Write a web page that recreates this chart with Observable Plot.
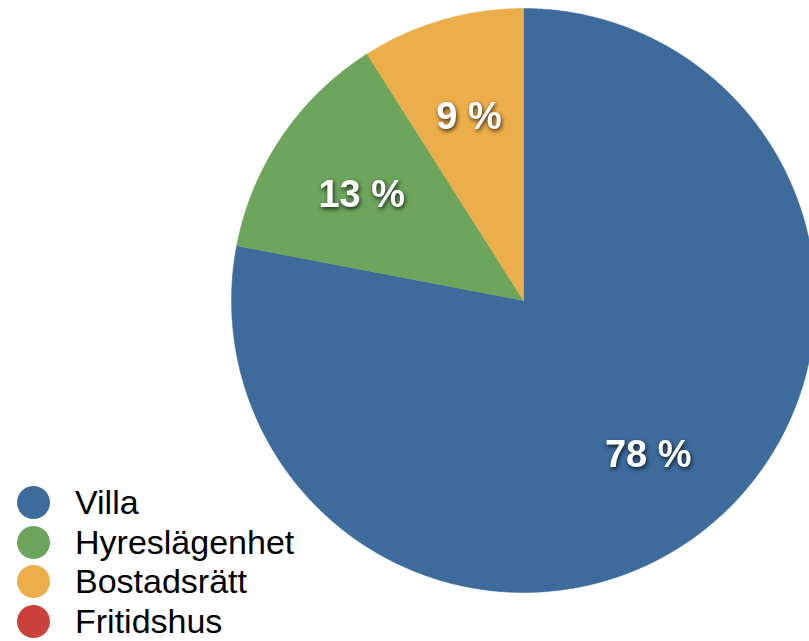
<!DOCTYPE html>
<html>
<head>
<meta charset="utf-8">
<script src="https://cdn.jsdelivr.net/npm/d3@7"></script>
<script src="https://cdn.jsdelivr.net/npm/@observablehq/plot@0.6"></script>
<style>
  html, body { margin: 0; padding: 0; background: #fff; }
  #wrap { position: relative; width: 809px; height: 641px; overflow: hidden; font-family: "Liberation Sans", Arial, Helvetica, sans-serif; }
  #legend { position: absolute; left: 17px; top: 483px; }
  .item { display: flex; align-items: center; height: 39.5px; }
  .sw { width: 33px; height: 33px; border-radius: 50%; margin-right: 25px; }
  .lab { font-size: 34px; color: #000; line-height: 39px; }
  .pct text { filter: drop-shadow(1px 2px 2px rgba(0,0,0,0.75)); }
</style>
</head>
<body>
<div id="wrap"></div>
<script>
const categories = ["Villa", "Hyreslägenhet", "Bostadsrätt", "Fritidshus"];
const values = [78, 13, 9, 0];
const colors = ["#3c6b9c", "#6ca55b", "#ecae4a", "#cb413e"];

// pie geometry in unit coordinates (radius 1), clockwise from 12 o'clock
const pie = d3.pie().sort(null).value(d => d.value);
const arcs = pie(categories.map((name, i) => ({name, value: values[i]})));
const outline = [];
const labels = [];
for (const a of arcs) {
  if (a.endAngle - a.startAngle <= 0) continue;
  const name = a.data.name;
  outline.push({name, x: 0, y: 0});
  const n = Math.max(2, Math.ceil((a.endAngle - a.startAngle) / (Math.PI / 360)));
  for (let k = 0; k <= n; ++k) {
    const t = a.startAngle + (a.endAngle - a.startAngle) * k / n;
    outline.push({name, x: Math.sin(t), y: Math.cos(t)});
  }
  outline.push({name, x: 0, y: 0});
  const m = (a.startAngle + a.endAngle) / 2;
  labels.push({name, x: 0.67 * Math.sin(m), y: 0.67 * Math.cos(m), text: `${a.data.value} %`});
}

const W = 809, H = 641, cx = 523, cy = 300, R = 292;
const chart = Plot.plot({
  width: W, height: H,
  margin: 0,
  x: {domain: [-cx / R, (W - cx) / R], range: [0, W], axis: null},
  y: {domain: [-(H - cy) / R, cy / R], range: [H, 0], axis: null},
  color: {domain: categories, range: colors},
  marks: [
    ...categories.map((c, i) => Plot.line(outline.filter(d => d.name === c), {
      x: "x", y: "y", fill: colors[i], stroke: colors[i], strokeWidth: 0.5, curve: "linear"
    })),
    Plot.text(labels, {
      x: "x", y: "y", text: "text", fill: "white", fontSize: 38, fontWeight: "bold", dy: 4,
      fontFamily: "Liberation Sans, Arial, sans-serif", className: "pct"
    })
  ]
});
const wrap = document.getElementById("wrap");
wrap.appendChild(chart);

const legend = document.createElement("div");
legend.id = "legend";
categories.forEach((c, i) => {
  const it = document.createElement("div");
  it.className = "item";
  it.innerHTML = `<div class="sw" style="background:${colors[i]}"></div><div class="lab">${c}</div>`;
  legend.appendChild(it);
});
wrap.appendChild(legend);
</script>
</body>
</html>
